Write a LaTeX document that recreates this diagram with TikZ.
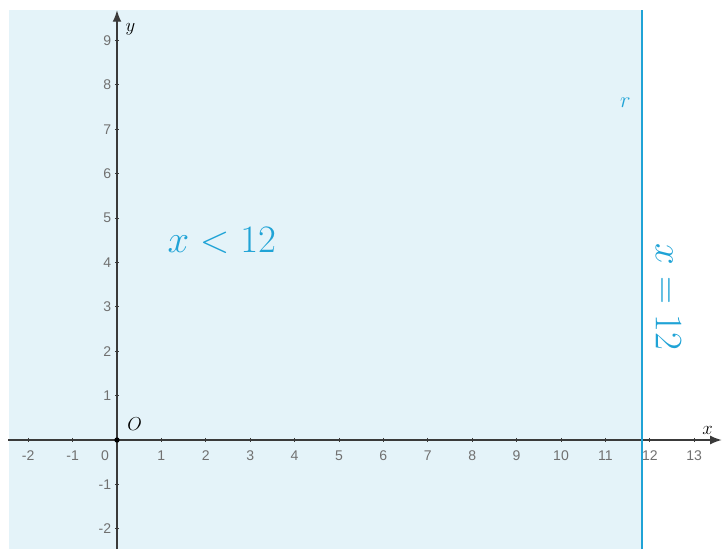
\documentclass[tikz,border=0pt]{standalone}
\usepackage{fontspec}
\newfontfamily\ticksf{Liberation Sans}
\definecolor{regionblue}{HTML}{E4F3F9}
\definecolor{lineblue}{HTML}{1FA3D6}
\definecolor{axisgray}{HTML}{3A3A3A}
\definecolor{tickgray}{HTML}{707070}
\usetikzlibrary{arrows.meta}

\begin{document}
\begin{tikzpicture}[
    ticklabel/.style={text=tickgray, font=\ticksf\fontsize{9}{10}\selectfont, inner sep=1pt},
    axis/.style={axisgray, line width=0.9pt, -{Latex[length=2.6mm, width=2mm]}}
]

\useasboundingbox (-2.635,-2.455) rectangle (13.626,9.91);

% Half-plane x < 12
\fill[regionblue] (-2.43,-2.46) rectangle (11.82,9.68);

% Axes
\coordinate (xstart) at (-2.45,0);
\coordinate (xend) at (13.62,0);
\coordinate (ystart) at (0,-2.46);
\coordinate (yend) at (0,9.68);
\draw[axis] (xstart) -- (xend);
\draw[axis] (ystart) -- (yend);

% Ticks on the x axis
\foreach \x in {-2,-1,1,2,...,13} {
    \draw[axisgray, line width=0.6pt] (\x,0.05) -- (\x,-0.05);
    \node[ticklabel] (xt\x) at (\x,-0.36) {\x};
}
\node[ticklabel] (xt0) at (-0.27,-0.36) {0};

% Ticks on the y axis
\foreach \y in {-2,-1,1,2,...,9} {
    \draw[axisgray, line width=0.6pt] (-0.05,\y) -- (0.05,\y);
    \node[ticklabel, anchor=east] (yt\y) at (-0.09,\y) {\y};
}

% Origin
\fill[black] (0,0) circle (0.06);
\node (origin) at (0.4,0.36) {\large$O$};
\node (xlabel) at (13.3,0.22) {\large$x$};
\node (ylabel) at (0.3,9.25) {\large$y$};

% Line r : x = 12
\draw[lineblue, line width=1.4pt] (11.82,-2.46) -- (11.82,9.68);
\node[text=lineblue] (rlabel) at (11.45,7.6) {\Large$r$};
\node[text=lineblue, rotate=-90] (eqlabel) at (12.42,3.22) {\fontsize{26}{30}\selectfont$x=12$};
\node[text=lineblue] (ineqlabel) at (2.36,4.5) {\fontsize{26}{30}\selectfont$x<12$};

\end{tikzpicture}
\end{document}
